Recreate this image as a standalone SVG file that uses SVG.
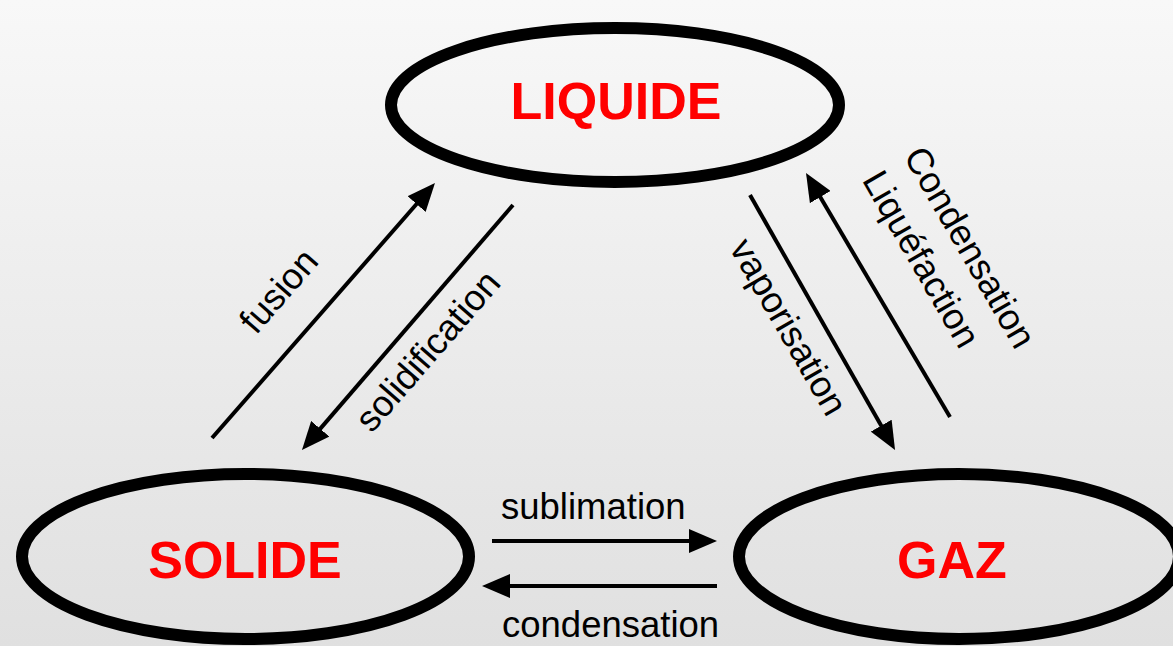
<svg xmlns="http://www.w3.org/2000/svg" width="1173" height="646" viewBox="0 0 1173 646">
  <defs>
    <linearGradient id="bg" x1="0" y1="0" x2="0" y2="1">
      <stop offset="0" stop-color="#f8f8f8"/>
      <stop offset="1" stop-color="#e0e0e0"/>
    </linearGradient>
    <marker id="head" viewBox="0 0 28 24" refX="18" refY="12" markerWidth="28" markerHeight="24" markerUnits="userSpaceOnUse" orient="auto">
      <path d="M0,0 L28,12 L0,24 Z" fill="#000"/>
    </marker>
    <style>
      .state { fill: none; stroke: #000; stroke-width: 12; }
      .name { font-family: "Liberation Sans", Arial, sans-serif; font-weight: bold; font-size: 52px; fill: #ff0000; text-anchor: middle; }
      .arrow { stroke: #000; stroke-width: 4; fill: none; marker-end: url(#head); }
      .lbl { font-family: "Liberation Sans", Arial, sans-serif; font-size: 36.5px; fill: #000; }
    </style>
  </defs>
  <rect x="0" y="0" width="1173" height="646" fill="url(#bg)"/>

  <g id="liquide">
    <ellipse class="state" cx="615" cy="105" rx="224" ry="77"/>
    <text class="name" x="616" y="119">LIQUIDE</text>
  </g>
  <g id="solide">
    <ellipse class="state" cx="245.5" cy="556.5" rx="223.5" ry="82.5"/>
    <text class="name" x="245" y="578">SOLIDE</text>
  </g>
  <g id="gaz">
    <ellipse class="state" cx="959" cy="556.5" rx="220" ry="82.5"/>
    <text class="name" x="952" y="578">GAZ</text>
  </g>

  <g id="connectors">
    <line class="arrow" x1="212" y1="438" x2="428.4" y2="190.5"/>
    <line class="arrow" x1="513" y1="205" x2="308.5" y2="442.4"/>
    <line class="arrow" x1="750" y1="195" x2="890.1" y2="441.3"/>
    <line class="arrow" x1="950" y1="417" x2="811.1" y2="181.6"/>
    <line class="arrow" x1="492" y1="541" x2="707" y2="541"/>
    <line class="arrow" x1="717" y1="586" x2="492" y2="586"/>
  </g>

  <g id="labels">
    <text class="lbl" text-anchor="middle" transform="translate(288,299) rotate(-49)">fusion</text>
    <text class="lbl" text-anchor="middle" transform="translate(437,359) rotate(-49)">solidification</text>
    <text class="lbl" text-anchor="middle" transform="translate(778,333) rotate(60)">vaporisation</text>
    <g transform="translate(903,156) rotate(60)">
      <text class="lbl" x="0" y="0">Condensation</text>
      <text class="lbl" x="0" y="48">Liquéfaction</text>
    </g>
    <text class="lbl" x="501" y="519" font-size="35.5">sublimation</text>
    <text class="lbl" x="502" y="637" font-size="35.8">condensation</text>
  </g>
</svg>
